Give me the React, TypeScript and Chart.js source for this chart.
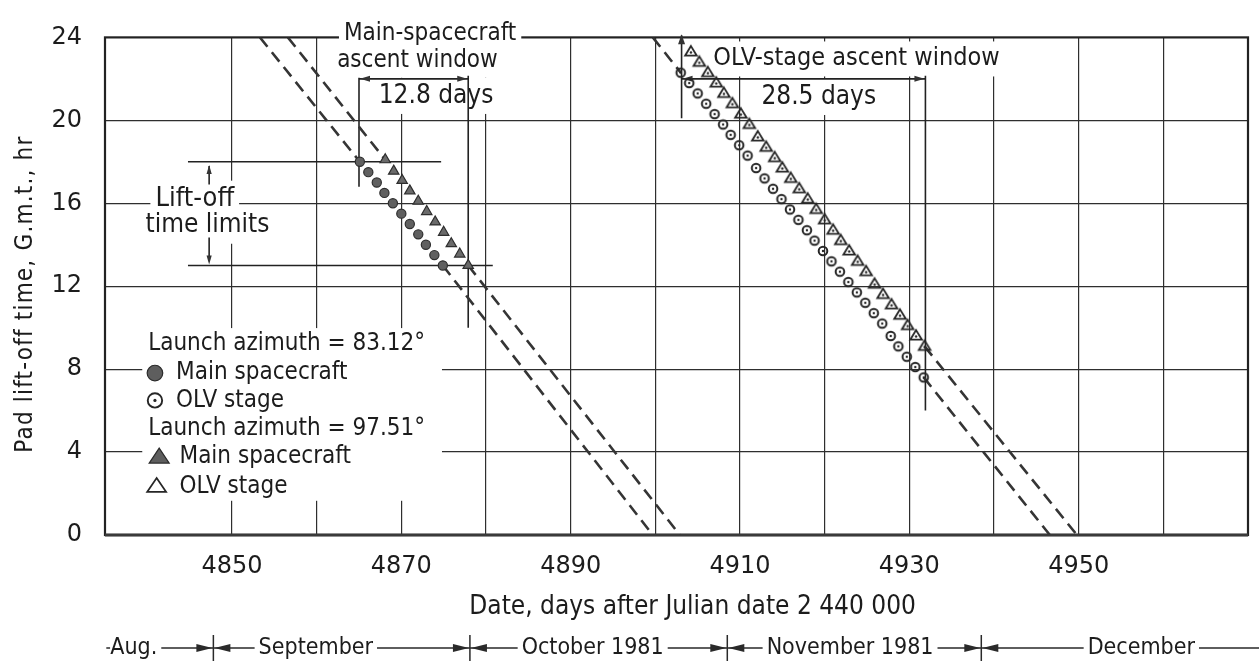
import { useEffect, useRef } from 'react';
import { Chart, registerables } from 'chart.js';

Chart.register(...registerables);

// ---------- axes ----------
const dayMin = 4835;
const dayMax = 4970;
const dayGridLines = [4850, 4860, 4870, 4880, 4890, 4900, 4910, 4920, 4930, 4940, 4950, 4960];
const dayTickLabels = [4850, 4870, 4890, 4910, 4930, 4950];
const hourTicks = [0, 4, 8, 12, 16, 20, 24];

// ---------- launch azimuth = 83.12 deg ----------
const mainCircleDays = [4865.1, 4866.1, 4867.1, 4868.0, 4869.0, 4870.0, 4871.0, 4872.0, 4872.9, 4873.9, 4874.9];
const mainCircleHours = [18.0, 17.5, 17.0, 16.5, 16.0, 15.5, 15.0, 14.5, 14.0, 13.5, 13.0];
const olvCircleDays = [
  4903.0, 4904.0, 4905.0, 4906.0, 4907.0, 4908.0, 4908.9, 4909.9, 4910.9, 4911.9,
  4912.9, 4913.9, 4914.9, 4915.9, 4916.9, 4917.9, 4918.8, 4919.8, 4920.8, 4921.8,
  4922.8, 4923.8, 4924.8, 4925.8, 4926.8, 4927.8, 4928.7, 4929.7, 4930.7, 4931.7,
];
const olvCircleHours = [
  22.3, 21.8, 21.3, 20.8, 20.3, 19.8, 19.3, 18.8, 18.3, 17.7,
  17.2, 16.7, 16.2, 15.7, 15.2, 14.7, 14.2, 13.7, 13.2, 12.7,
  12.2, 11.7, 11.2, 10.7, 10.2, 9.6, 9.1, 8.6, 8.1, 7.6,
];

// ---------- launch azimuth = 97.51 deg ----------
const mainTriangleDays = [4868.1, 4869.1, 4870.1, 4871.0, 4872.0, 4873.0, 4874.0, 4875.0, 4875.9, 4876.9, 4877.9];
const mainTriangleHours = [18.1, 17.55, 17.1, 16.6, 16.1, 15.6, 15.1, 14.6, 14.05, 13.55, 13.0];
const olvTriangleDays = [
  4904.2, 4905.2, 4906.2, 4907.2, 4908.1, 4909.1, 4910.1, 4911.1, 4912.1, 4913.1,
  4914.1, 4915.0, 4916.0, 4917.0, 4918.0, 4919.0, 4920.0, 4921.0, 4921.9, 4922.9,
  4923.9, 4924.9, 4925.9, 4926.9, 4927.9, 4928.9, 4929.8, 4930.8, 4931.8,
];
const olvTriangleHours = [
  23.3, 22.8, 22.3, 21.8, 21.3, 20.8, 20.3, 19.8, 19.2, 18.7,
  18.2, 17.7, 17.2, 16.7, 16.2, 15.7, 15.2, 14.7, 14.2, 13.7,
  13.2, 12.7, 12.1, 11.6, 11.1, 10.6, 10.1, 9.6, 9.1,
];

// ---------- dashed continuations outside the windows: [day, hour] ----------
const mainCircleLead = [[4853.3, 24], [4865.1, 18.0]];
const mainCircleTail = [[4874.9, 13.0], [4899.7, 0]];
const mainTriangleLead = [[4856.6, 24], [4868.1, 18.1]];
const mainTriangleTail = [[4877.9, 13.0], [4902.9, 0]];
const olvCircleLead = [[4899.7, 24], [4903.0, 22.3]];
const olvCircleTail = [[4931.7, 7.6], [4946.6, 0]];
const olvTriangleTail = [[4931.8, 9.1], [4949.8, 0]];

// ---------- ascent windows and lift-off limits ----------
const mainWindowDays = [4865.0, 4877.9];
const mainWindowBarHours = [16.8, 10.0]; // lower ends of the start / end bars
const olvWindowDays = [4903.1, 4931.9];
const olvWindowBarHours = [20.1, 6.0];
const windowArrowHour = 22.0;
const liftOffLimitHours = [18, 13];
const liftOffLimitStartDay = 4844.8;
const liftOffLimitEndDays = [4874.7, 4880.8];
const liftOffArrowDay = 4847.3;

// ---------- calendar strip ----------
const monthBounds = [4835.6, 4847.8, 4878.1, 4908.5, 4938.5, 4971.3];
const monthNames = ['Aug.', 'September', 'October 1981', 'November 1981', 'December'];
const monthLabelDays = [4838.4, 4859.9, 4892.6, 4923.0, 4957.4];

const INK = '#1c1c1c';
const SANS = '"DejaVu Sans", "Liberation Sans", sans-serif';
const COND = '"DejaVu Sans Condensed", "DejaVu Sans", sans-serif';

// Text notes placed in data coordinates
const notes = [
  { text: 'Main-spacecraft', day: 4873.4, hour: 24.19, size: 24 },
  { text: 'ascent window', day: 4871.9, hour: 22.87, size: 24 },
  { text: '12.8 days', day: 4874.1, hour: 21.18, size: 26 },
  { text: 'OLV-stage ascent window', day: 4923.75, hour: 22.96, size: 25 },
  { text: '28.5 days', day: 4919.3, hour: 21.13, size: 26 },
  { text: 'Lift-off', day: 4845.6, hour: 16.19, size: 27 },
  { text: 'time limits', day: 4847.1, hour: 14.92, size: 26 },
];

const legendRows = [
  { kind: 'title', text: 'Launch azimuth = 83.12°' },
  { kind: 'disc', text: 'Main spacecraft' },
  { kind: 'ring', text: 'OLV stage' },
  { kind: 'title', text: 'Launch azimuth = 97.51°' },
  { kind: 'tri', text: 'Main spacecraft' },
  { kind: 'openTri', text: 'OLV stage' },
];
const legendRowHours = [9.22, 7.81, 6.49, 5.13, 3.76, 2.35];
const legendPanel = { days: [4839.4, 4874.8], hours: [1.65, 9.98] };

const pts = (days: number[], hours: number[]) => days.map((d, i) => ({ x: d, y: hours[i] }));
const seg = (p: number[][]) => p.map(([x, y]) => ({ x, y }));

function drawDisc(ctx: CanvasRenderingContext2D, x: number, y: number, r: number) {
  ctx.beginPath();
  ctx.arc(x, y, r, 0, Math.PI * 2);
  ctx.fillStyle = '#5e5e5e';
  ctx.fill();
  ctx.lineWidth = 1.2;
  ctx.strokeStyle = '#2a2a2a';
  ctx.stroke();
}

function drawRing(ctx: CanvasRenderingContext2D, x: number, y: number, r: number, lw: number) {
  ctx.beginPath();
  ctx.arc(x, y, r, 0, Math.PI * 2);
  ctx.lineWidth = lw;
  ctx.strokeStyle = '#262626';
  ctx.stroke();
  ctx.beginPath();
  ctx.arc(x, y, Math.max(1.2, r * 0.22), 0, Math.PI * 2);
  ctx.fillStyle = '#262626';
  ctx.fill();
}

function trianglePath(ctx: CanvasRenderingContext2D, x: number, y: number, halfW: number, h: number) {
  ctx.beginPath();
  ctx.moveTo(x, y - (2 * h) / 3);
  ctx.lineTo(x + halfW, y + h / 3);
  ctx.lineTo(x - halfW, y + h / 3);
  ctx.closePath();
}

function drawOpenTriangle(ctx: CanvasRenderingContext2D, x: number, y: number, halfW: number, h: number, lw: number, dot: boolean) {
  trianglePath(ctx, x, y, halfW, h);
  ctx.lineWidth = lw;
  ctx.lineJoin = 'miter';
  ctx.strokeStyle = '#262626';
  ctx.stroke();
  if (dot) {
    ctx.beginPath();
    ctx.arc(x, y, 1.2, 0, Math.PI * 2);
    ctx.fillStyle = '#262626';
    ctx.fill();
  }
}

function makeSprite(draw: (ctx: CanvasRenderingContext2D, c: number) => void, size: number) {
  const cv = document.createElement('canvas');
  cv.width = size;
  cv.height = size;
  const ctx = cv.getContext('2d')!;
  draw(ctx, size / 2);
  return cv;
}

function arrowHead(ctx: CanvasRenderingContext2D, tx: number, ty: number, dx: number, dy: number, len: number, half: number) {
  const bx = tx - dx * len;
  const by = ty - dy * len;
  ctx.beginPath();
  ctx.moveTo(tx, ty);
  ctx.lineTo(bx - dy * half, by + dx * half);
  ctx.lineTo(bx + dy * half, by - dx * half);
  ctx.closePath();
  ctx.fill();
}

const overlay = {
  id: 'overlay',
  beforeDatasetsDraw(chart: any) {
    const { ctx, chartArea: a, scales } = chart;
    const X = (d: number) => scales.x.getPixelForValue(d);
    const Y = (h: number) => scales.y.getPixelForValue(h);
    ctx.save();

    // plot frame
    ctx.strokeStyle = '#222';
    ctx.lineWidth = 2.2;
    ctx.strokeRect(a.left, a.top, a.right - a.left, a.bottom - a.top);
    ctx.beginPath();
    ctx.strokeStyle = '#3a3a3a';
    ctx.lineWidth = 3;
    ctx.moveTo(a.left, a.bottom);
    ctx.lineTo(a.right, a.bottom);
    ctx.stroke();

    // white panels behind the notes
    ctx.fillStyle = '#fff';
    for (const n of notes) {
      ctx.font = `${n.size}px ${COND}`;
      const w = ctx.measureText(n.text).width;
      const cx = X(n.day);
      const cy = Y(n.hour);
      const hh = n.size * 0.58 + 3;
      ctx.fillRect(cx - w / 2 - 5, cy - hh, w + 10, hh * 2);
    }
    const lx0 = X(legendPanel.days[0]);
    const lx1 = X(legendPanel.days[1]);
    const ly0 = Y(legendPanel.hours[1]);
    const ly1 = Y(legendPanel.hours[0]);
    ctx.fillRect(lx0, ly0, lx1 - lx0, ly1 - ly0);

    // note texts
    ctx.fillStyle = INK;
    ctx.textAlign = 'center';
    ctx.textBaseline = 'middle';
    for (const n of notes) {
      ctx.font = `${n.size}px ${COND}`;
      ctx.fillText(n.text, X(n.day), Y(n.hour));
    }

    // legend
    ctx.textAlign = 'left';
    ctx.font = `24px ${COND}`;
    legendRows.forEach((row, i) => {
      const y = Y(legendRowHours[i]);
      if (row.kind === 'title') {
        ctx.fillStyle = INK;
        ctx.fillText(row.text, X(4840.1), y);
        return;
      }
      const mx = X(4840.9);
      let tx = X(4843.4);
      if (row.kind === 'disc') drawDisc(ctx, mx, y, 7.8);
      if (row.kind === 'ring') drawRing(ctx, mx, y, 7.2, 1.9);
      if (row.kind === 'tri') {
        trianglePath(ctx, X(4841.4), y + 1, 10, 15);
        ctx.fillStyle = '#5e5e5e';
        ctx.fill();
        ctx.lineWidth = 1.2;
        ctx.strokeStyle = '#2a2a2a';
        ctx.stroke();
        tx = X(4843.8);
      }
      if (row.kind === 'openTri') {
        drawOpenTriangle(ctx, X(4841.1), y + 1, 9.5, 14, 1.7, false);
        tx = X(4843.8);
      }
      ctx.fillStyle = INK;
      ctx.fillText(row.text, tx, y);
    });

    // ascent-window dimension lines
    ctx.strokeStyle = '#222';
    ctx.fillStyle = '#333';
    ctx.lineWidth = 1.6;
    const wins = [
      { days: mainWindowDays, bars: mainWindowBarHours, topLeft: windowArrowHour + 0.05 },
      { days: olvWindowDays, bars: olvWindowBarHours, topLeft: 24.1 },
    ];
    for (const w of wins) {
      const x0 = X(w.days[0]);
      const x1 = X(w.days[1]);
      const ya = Y(windowArrowHour);
      ctx.beginPath();
      ctx.moveTo(x0, ya);
      ctx.lineTo(x1, ya);
      ctx.moveTo(x0, Y(w.topLeft));
      ctx.lineTo(x0, Y(w.bars[0]));
      ctx.moveTo(x1, ya - 3);
      ctx.lineTo(x1, Y(w.bars[1]));
      ctx.stroke();
      arrowHead(ctx, x0 + 1, ya, -1, 0, 10, 3);
      arrowHead(ctx, x1 - 1, ya, 1, 0, 10, 3);
    }
    arrowHead(ctx, X(olvWindowDays[0]), Y(24.1) - 1, 0, -1, 10, 3.5);

    // lift-off time limits
    ctx.beginPath();
    liftOffLimitHours.forEach((h, i) => {
      ctx.moveTo(X(liftOffLimitStartDay), Y(h));
      ctx.lineTo(X(liftOffLimitEndDays[i]), Y(h));
    });
    const ax = X(liftOffArrowDay);
    ctx.moveTo(ax, Y(16.9));
    ctx.lineTo(ax, Y(17.8));
    ctx.moveTo(ax, Y(14.35));
    ctx.lineTo(ax, Y(13.2));
    ctx.stroke();
    arrowHead(ctx, ax, Y(17.85), 0, -1, 9, 2.6);
    arrowHead(ctx, ax, Y(13.05), 0, 1, 9, 2.6);

    ctx.restore();
  },
  afterDraw(chart: any) {
    const { ctx, scales } = chart;
    const X = (d: number) => scales.x.getPixelForValue(d);
    const Y = (h: number) => scales.y.getPixelForValue(h);
    ctx.save();
    ctx.fillStyle = INK;

    // axis titles
    ctx.textAlign = 'center';
    ctx.textBaseline = 'middle';
    ctx.font = `26px ${COND}`;
    ctx.fillText('Date, days after Julian date 2 440 000', X(4904.4), 607);

    ctx.save();
    ctx.translate(32, Y(11.62));
    ctx.rotate(-Math.PI / 2);
    ctx.textBaseline = 'alphabetic';
    ctx.font = `24px ${COND}`;
    (ctx as any).letterSpacing = '1.2px';
    ctx.fillText('Pad lift-off time, G.m.t., hr', 0, 0);
    ctx.restore();

    // calendar strip
    const yb = 648;
    ctx.font = `23px ${COND}`;
    ctx.strokeStyle = '#2a2a2a';
    ctx.fillStyle = '#2a2a2a';
    ctx.lineWidth = 1.5;
    for (let i = 0; i < monthNames.length; i++) {
      const s = X(monthBounds[i]);
      const e = X(monthBounds[i + 1]);
      const c = X(monthLabelDays[i]);
      const w = ctx.measureText(monthNames[i]).width;
      ctx.beginPath();
      ctx.moveTo(s, yb);
      ctx.lineTo(c - w / 2 - 4, yb);
      ctx.moveTo(c + w / 2 + 4, yb);
      ctx.lineTo(e, yb);
      ctx.stroke();
      if (i > 0) arrowHead(ctx, s + 1, yb, -1, 0, 16, 4);
      if (i < monthNames.length - 1) arrowHead(ctx, e - 1, yb, 1, 0, 16, 4);
      ctx.fillStyle = INK;
      ctx.fillText(monthNames[i], c, yb);
      ctx.fillStyle = '#2a2a2a';
    }
    ctx.beginPath();
    for (let i = 1; i < monthBounds.length - 1; i++) {
      const x = X(monthBounds[i]);
      ctx.moveTo(x, yb - 13);
      ctx.lineTo(x, yb + 13);
    }
    ctx.stroke();
    ctx.restore();
  },
};

export default function App() {
  const ref = useRef<HTMLCanvasElement>(null);

  useEffect(() => {
    const canvas = ref.current;
    if (!canvas) return;

    const ringDot = makeSprite((c, m) => drawRing(c, m, m, 4.3, 2), 14);
    const triDot = makeSprite((c, m) => drawOpenTriangle(c, m, m + 0.5, 5.8, 9.6, 1.8, true), 18);

    const dashed = (data: { x: number; y: number }[]) => ({
      data,
      showLine: true,
      pointRadius: 0,
      borderColor: '#353535',
      borderWidth: 2.6,
      borderDash: [12, 7],
      fill: false,
    });

    const chart = new Chart(canvas, {
      type: 'scatter',
      data: {
        datasets: [
          {
            label: 'Main spacecraft, 83.12°',
            data: pts(mainCircleDays, mainCircleHours),
            pointStyle: 'circle',
            pointRadius: 4.6,
            backgroundColor: '#606060',
            borderColor: '#2e2e2e',
            borderWidth: 1.2,
          },
          {
            label: 'OLV stage, 83.12°',
            data: pts(olvCircleDays, olvCircleHours),
            pointStyle: ringDot,
            pointRadius: 5,
          },
          {
            label: 'Main spacecraft, 97.51°',
            data: pts(mainTriangleDays, mainTriangleHours),
            pointStyle: 'triangle',
            pointRadius: 6,
            backgroundColor: '#6a6a6a',
            borderColor: '#2e2e2e',
            borderWidth: 1.2,
          },
          {
            label: 'OLV stage, 97.51°',
            data: pts(olvTriangleDays, olvTriangleHours),
            pointStyle: triDot,
            pointRadius: 5,
          },
          dashed(seg(mainCircleLead)),
          dashed(seg(mainCircleTail)),
          dashed(seg(mainTriangleLead)),
          dashed(seg(mainTriangleTail)),
          dashed(seg(olvCircleLead)),
          dashed(seg(olvCircleTail)),
          dashed(seg(olvTriangleTail)),
        ] as any,
      },
      options: {
        animation: false,
        responsive: false,
        devicePixelRatio: 1,
        events: [],
        layout: { padding: { left: 0, right: 11, top: 25, bottom: 0 } },
        plugins: { legend: { display: false }, tooltip: { enabled: false } },
        scales: {
          x: {
            type: 'linear',
            min: dayMin,
            max: dayMax,
            afterBuildTicks: (s: any) => {
              s.ticks = dayGridLines.map((v) => ({ value: v }));
            },
            afterFit: (s: any) => {
              s.height = 135;
            },
            grid: { color: '#2e2e2e', lineWidth: 1.2, drawTicks: false },
            border: { display: false },
            ticks: {
              autoSkip: false,
              maxRotation: 0,
              padding: 17,
              color: INK,
              font: { family: SANS, size: 24 },
              callback: (v: any) => (dayTickLabels.includes(Number(v)) ? String(v) : ''),
            },
          },
          y: {
            type: 'linear',
            min: 0,
            max: 24,
            afterBuildTicks: (s: any) => {
              s.ticks = hourTicks.map((v) => ({ value: v }));
            },
            afterFit: (s: any) => {
              s.width = 105;
            },
            grid: {
              color: (c: any) => (c.tick && (c.tick.value === 0 || c.tick.value === 24) ? 'rgba(0,0,0,0)' : '#2e2e2e'),
              lineWidth: 1.2,
              drawTicks: false,
            },
            border: { display: false },
            ticks: {
              padding: 23,
              color: INK,
              font: { family: SANS, size: 24 },
              callback: (v: any) => String(v),
            },
          },
        },
      } as any,
      plugins: [overlay],
    });

    return () => chart.destroy();
  }, []);

  return (
    <div style={{ position: 'fixed', left: 0, top: 0, width: 1259, height: 670, background: '#fff' }}>
      <canvas ref={ref} width={1259} height={670} style={{ display: 'block', width: 1259, height: 670 }} />
    </div>
  );
}
